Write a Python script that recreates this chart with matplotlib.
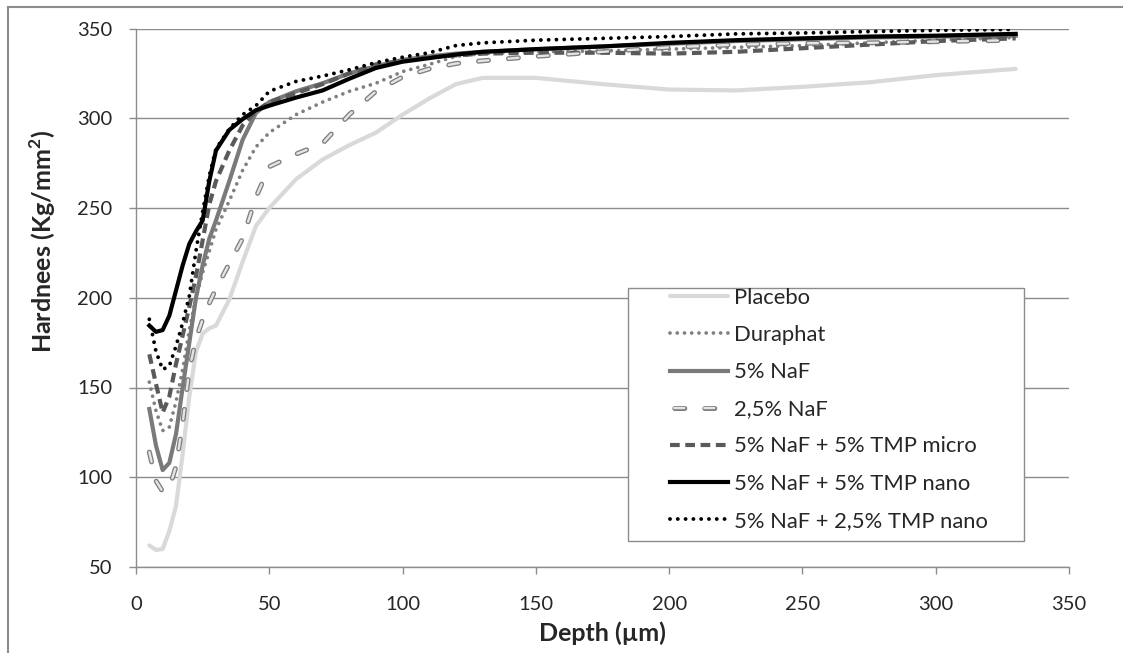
import matplotlib
matplotlib.use("Agg")
import matplotlib.pyplot as plt
from matplotlib.patches import Rectangle
from matplotlib.lines import Line2D
from matplotlib.legend_handler import HandlerTuple

plt.rcParams['font.family'] = ['Lato', 'DejaVu Sans']
plt.rcParams['lines.scale_dashes'] = False
plt.rcParams['mathtext.fontset'] = 'custom'
plt.rcParams['mathtext.rm'] = 'Lato'
plt.rcParams['mathtext.bf'] = 'Lato:bold'

depth = [5, 7.5, 10, 12.5, 15, 17.5, 20, 22.5, 25, 27.5, 30, 35, 40, 45, 50,
         60, 70, 80, 90, 100, 110, 120, 130, 150, 175, 200, 225, 250, 275, 300, 330]

placebo = [62, 59.5, 60, 70, 84, 113, 145, 170, 180, 183, 184.5, 199, 220, 240, 250,
           266, 277, 285, 292, 302, 311, 319, 322.5, 322.5, 319, 316, 315.5, 317.5, 320, 324, 327.5]
duraphat = [153, 137, 126, 128, 142, 160, 182, 200, 214, 226, 238, 254, 271, 284, 292,
            302, 309, 315, 319.5, 326, 330, 334.5, 336, 337, 337.5, 338.5, 339.5, 340.5, 342, 343.5, 345]
naf5 = [138, 117.6, 104, 108, 124, 150, 175, 200, 218, 233, 243, 265, 288, 303, 309,
        315, 319.5, 325, 329, 332.5, 334.5, 336, 337, 338.5, 340, 341.5, 343, 344, 345, 345.5, 346]
naf25 = [114, 98, 92, 94, 106, 130, 160, 177, 188, 197, 205, 219, 233, 256, 273,
         280, 286, 302, 315, 323, 327.5, 330.5, 332, 334.5, 337, 339.5, 341, 341.8, 342, 342.7, 343.5]
tmp_micro = [168.5, 152, 136, 145, 163, 179, 195, 212, 232, 252, 265, 282, 296, 304, 309,
             314, 319, 325, 330, 332, 334, 335, 336, 336.5, 336.5, 336, 337, 339, 341, 343, 344.5]
tmp_nano = [184.5, 181, 182, 190, 204, 218, 230, 237, 243, 265, 282, 293.5, 299.5, 304.5, 307,
            311.5, 315.5, 322, 328, 331.5, 333.5, 335.5, 337, 338.5, 340, 342, 343.5, 344.5, 345.5, 346, 347]
tmp25_nano = [188, 170, 160, 162, 173, 186, 201, 226, 248, 268, 283, 294, 302, 307, 315,
              320.5, 323.5, 327, 331, 334, 336.5, 340.5, 342, 343.5, 344.5, 345.5, 347, 347.5, 348.3, 349, 349.5]

labels = ["Placebo", "Duraphat", "5% NaF", "2,5% NaF", "5% NaF + 5% TMP micro",
          "5% NaF + 5% TMP nano", "5% NaF + 2,5% TMP nano"]
xticks = [0, 50, 100, 150, 200, 250, 300, 350]
yticks = [50, 100, 150, 200, 250, 300, 350]

W, H = 1123, 653
fig = plt.figure(figsize=(W / 100, H / 100), dpi=100)
ax = fig.add_axes([136 / W, (H - 567) / H, (1069 - 136) / W, (567 - 28.5) / H])

grid_c = '#8c8c8c'
txt_c = '#262626'
d25 = (7.2, 14.4)

l_plac, = ax.plot(depth, placebo, color='#d9d9d9', lw=3.0, solid_capstyle='round',
                  solid_joinstyle='round', zorder=2)
l_dura, = ax.plot(depth, duraphat, color='#808080', lw=2.7, dashes=(0.01, 5.2),
                  dash_capstyle='round', zorder=3)
l_naf5, = ax.plot(depth, naf5, color='#7a7a7a', lw=3.0, solid_joinstyle='round', zorder=3)
ax.plot(depth, naf25, color='#7f7f7f', lw=3.6, dashes=d25, dash_capstyle='round', zorder=3)
ax.plot(depth, naf25, color='#e4e4e4', lw=1.7, dashes=d25, dash_capstyle='round', zorder=3.1)
l_micro, = ax.plot(depth, tmp_micro, color='#5a5a5a', lw=3.0, dashes=(7.0, 4.0),
                   dash_capstyle='butt', zorder=3)
l_nano, = ax.plot(depth, tmp_nano, color='#000000', lw=3.0, solid_joinstyle='round', zorder=3.5)
l_n25, = ax.plot(depth, tmp25_nano, color='#000000', lw=2.8, dashes=(0.01, 5.6),
                 dash_capstyle='round', zorder=3.5)

# legend proxies for the outlined dash style
p_out = Line2D([], [], color='#7f7f7f', lw=3.6, linestyle=(18.5, d25), dash_capstyle='round')
p_in = Line2D([], [], color='#e4e4e4', lw=1.7, linestyle=(18.5, d25), dash_capstyle='round')

ax.set_xlim(0, 350)
ax.set_ylim(50, 350)
ax.set_xticks(xticks)
ax.set_yticks(yticks)
ax.yaxis.grid(True, color=grid_c, lw=1.0)
ax.set_axisbelow(True)
for s in ['top', 'right']:
    ax.spines[s].set_visible(False)
for s in ['left', 'bottom']:
    ax.spines[s].set_color(grid_c)
    ax.spines[s].set_linewidth(1.0)
ax.tick_params(axis='both', colors=grid_c, length=5, width=1.0, labelsize=14.5,
               labelcolor=txt_c)
ax.tick_params(axis='x', pad=16)
ax.tick_params(axis='y', pad=12)

ax.set_xlabel("Depth (µm)", fontsize=18, fontweight='bold', color=txt_c, labelpad=6)
ax.set_ylabel("Hardnees (Kg/mm$^{\\mathbf{2}}$)", fontsize=18, fontweight='bold', color=txt_c)
ax.yaxis.set_label_coords((58 - 136) / 933, (567 - 241) / 538.5)

# legend frame
x0 = (628 - 136) / 933
x1 = (1024 - 136) / 933
y0 = (567 - 541) / 538.5
y1 = (567 - 288) / 538.5
ax.add_patch(Rectangle((x0, y0), x1 - x0, y1 - y0, transform=ax.transAxes,
                       facecolor='white', edgecolor='#8c8c8c', lw=1.0, zorder=4.5))

handles = [l_plac, l_dura, l_naf5, (p_out, p_in), l_micro, l_nano, l_n25]
leg = ax.legend(handles, labels, loc='upper left',
                bbox_to_anchor=((670 - 136) / 933, (567 - 288) / 538.5),
                frameon=False, fontsize=15.8, handlelength=2.65, handletextpad=0.25,
                labelspacing=0.78, borderpad=0, borderaxespad=0,
                handler_map={tuple: HandlerTuple(ndivide=1, pad=0)})
leg.set_zorder(5)
for t in leg.get_texts():
    t.set_color(txt_c)

# figure border (top and left)
fig.add_artist(Line2D([8 / W, 1], [1 - 7 / H, 1 - 7 / H], color='#8c8c8c', lw=1.5,
                      transform=fig.transFigure))
fig.add_artist(Line2D([8 / W, 8 / W], [0, 1 - 7 / H], color='#8c8c8c', lw=1.5,
                      transform=fig.transFigure))

fig.savefig("out.png", dpi=100)
